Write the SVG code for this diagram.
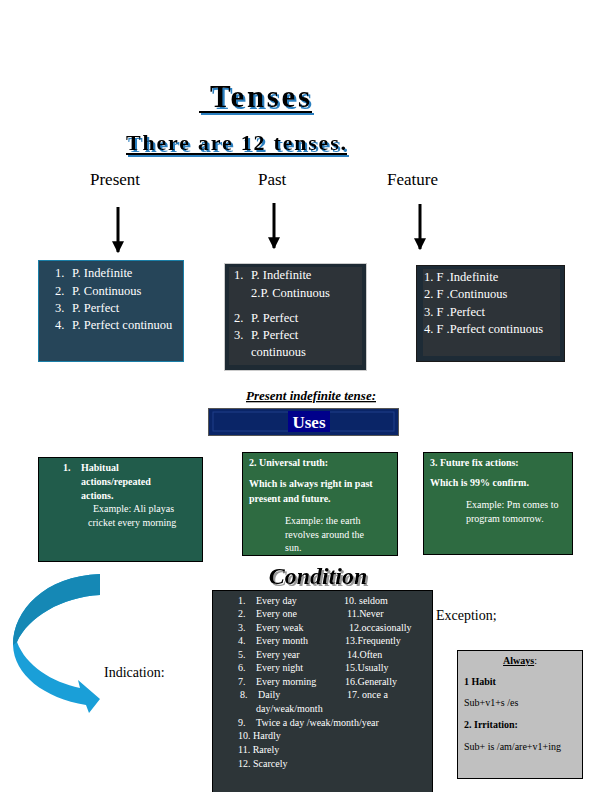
<svg xmlns="http://www.w3.org/2000/svg" width="612" height="792" viewBox="0 0 612 792" font-family="'Liberation Serif','Times New Roman',serif">
<defs>
<style>
text{font-family:'Liberation Serif','Times New Roman',serif}
.w{fill:#fff;font-size:12.5px;font-family:'Liberation Serif',serif}
.s{fill:#fff;font-size:10px;font-family:'Liberation Serif',serif}
.sb{fill:#fff;font-size:10px;font-weight:bold;font-family:'Liberation Serif',serif}
.k{fill:#000;font-size:10px;font-family:'Liberation Serif',serif}
.hd{font-size:17px;fill:#000;font-family:'Liberation Serif',serif}
</style>
<filter id="bs" x="-10%" y="-20%" width="130%" height="150%"><feDropShadow dx="2" dy="2" stdDeviation="0.3" flood-color="#2a7fc0"/></filter>
<filter id="gs" x="-10%" y="-20%" width="130%" height="150%"><feDropShadow dx="2" dy="2" stdDeviation="0.5" flood-color="#999"/></filter>
<marker id="ar" viewBox="0 0 10 10" refX="9" refY="5" markerWidth="4" markerHeight="4" orient="auto"><path d="M0,0 L10,5 L0,10 Z" fill="#000"/></marker>
</defs>
<rect width="612" height="792" fill="#fff"/>
<g id="title" filter="url(#bs)">
<text x="210" y="107" font-size="31" font-weight="bold" fill="#000" textLength="100">Tenses</text>
<rect x="199" y="111" width="113" height="2" fill="#000"/>
<text x="126" y="150" font-size="22" font-weight="bold" fill="#000" textLength="220">There are 12 tenses.</text>
<rect x="126" y="153" width="221" height="2" fill="#000"/>
</g>
<g id="heads">
<text class="hd" x="90" y="185">Present</text>
<text class="hd" x="258" y="185">Past</text>
<text class="hd" x="387" y="185">Feature</text>
</g>
<g id="connectors" stroke="#000" stroke-width="3" marker-end="url(#ar)">
<line x1="118" y1="207" x2="118" y2="252"/>
<line x1="274" y1="203" x2="274" y2="248"/>
<line x1="420" y1="204" x2="420" y2="249"/>
</g>
<g id="present">
<rect x="38.5" y="260.5" width="145" height="101" fill="#264559" stroke="#1a7fa8"/>
<text class="w" x="55" y="277">1.</text><text class="w" x="72" y="277">P. Indefinite</text>
<text class="w" x="55" y="295">2.</text><text class="w" x="72" y="295">P. Continuous</text>
<text class="w" x="55" y="312">3.</text><text class="w" x="72" y="312">P. Perfect</text>
<text class="w" x="55" y="329">4.</text><text class="w" x="72" y="329">P. Perfect continuou</text>
</g>
<g id="past">
<rect x="224.5" y="263.5" width="142" height="107" fill="#1e2a33" stroke="#ccc"/>
<rect x="229" y="267" width="133" height="98" fill="#2d3338"/>
<text class="w" x="234" y="279">1.</text><text class="w" x="251" y="279">P. Indefinite</text>
<text class="w" x="251" y="297">2.P. Continuous</text>
<text class="w" x="234" y="322">2.</text><text class="w" x="251" y="322">P. Perfect</text>
<text class="w" x="234" y="339">3.</text><text class="w" x="251" y="339">P. Perfect</text>
<text class="w" x="251" y="356">continuous</text>
</g>
<g id="future">
<rect x="416.5" y="265.5" width="148" height="96" fill="#1d2b36" stroke="#1a1a1a"/>
<rect x="423" y="269" width="137" height="87" fill="#2d3338"/>
<text class="w" x="424" y="281">1. F .Indefinite</text>
<text class="w" x="424" y="298">2. F .Continuous</text>
<text class="w" x="424" y="316">3. F .Perfect</text>
<text class="w" x="424" y="333">4. F .Perfect continuous</text>
</g>
<g id="uses">
<text x="311" y="400" text-anchor="middle" font-size="13" font-weight="bold" font-style="italic" text-decoration="underline">Present indefinite tense:</text>
<rect x="208.5" y="408.5" width="190" height="27" fill="#0a2567" stroke="#555"/>
<rect x="213" y="412" width="181" height="19" fill="none" stroke="#1f3f8a"/>
<rect x="288" y="411" width="42" height="21" fill="#00008b"/>
<text x="309" y="428" text-anchor="middle" font-size="17" font-weight="bold" fill="#fff">Uses</text>
</g>
<g id="use1">
<rect x="38.5" y="457.5" width="164" height="104" fill="#215c4b" stroke="#000"/>
<text class="sb" x="63" y="471">1.</text>
<text class="sb" x="81" y="471">Habitual</text>
<text class="sb" x="81" y="485">actions/repeated</text>
<text class="sb" x="81" y="499">actions.</text>
<text class="s" x="93" y="512">Example: Ali playas</text>
<text class="s" x="88" y="526">cricket every morning</text>
</g>
<g id="use2">
<rect x="242.5" y="452.5" width="155" height="103" fill="#2e6b41" stroke="#000"/>
<text class="sb" x="249" y="466">2. Universal truth:</text>
<text class="sb" x="249" y="487">Which is always right in past</text>
<text class="sb" x="249" y="502">present and future.</text>
<text class="s" x="285" y="524">Example: the earth</text>
<text class="s" x="285" y="538">revolves around the</text>
<text class="s" x="285" y="551">sun.</text>
</g>
<g id="use3">
<rect x="423.5" y="452.5" width="149" height="102" fill="#2e6b41" stroke="#000"/>
<text class="sb" x="430" y="466">3. Future fix actions:</text>
<text class="sb" x="430" y="486">Which is 99% confirm.</text>
<text class="s" x="466" y="508">Example: Pm comes to</text>
<text class="s" x="466" y="522">program tomorrow.</text>
</g>
<g id="condition">
<text x="318" y="584" text-anchor="middle" font-size="24" font-weight="bold" font-style="italic" fill="#000" filter="url(#gs)">Condition</text>
<rect x="212.5" y="590.5" width="220" height="202" fill="#2d3538" stroke="#000"/>
<text class="s" x="238" y="604">1.</text><text class="s" x="256" y="604">Every day</text><text class="s" x="344" y="604">10. seldom</text>
<text class="s" x="238" y="617">2.</text><text class="s" x="256" y="617">Every one</text><text class="s" x="347" y="617">11.Never</text>
<text class="s" x="238" y="631">3.</text><text class="s" x="256" y="631">Every weak</text><text class="s" x="349" y="631">12.occasionally</text>
<text class="s" x="238" y="644">4.</text><text class="s" x="256" y="644">Every month</text><text class="s" x="345" y="644">13.Frequently</text>
<text class="s" x="238" y="658">5.</text><text class="s" x="256" y="658">Every year</text><text class="s" x="347" y="658">14.Often</text>
<text class="s" x="238" y="671">6.</text><text class="s" x="256" y="671">Every night</text><text class="s" x="345" y="671">15.Usually</text>
<text class="s" x="238" y="685">7.</text><text class="s" x="256" y="685">Every morning</text><text class="s" x="345" y="685">16.Generally</text>
<text class="s" x="240" y="698">8.</text><text class="s" x="258" y="698">Daily</text><text class="s" x="347" y="698">17. once a</text>
<text class="s" x="256" y="712">day/weak/month</text>
<text class="s" x="238" y="726">9.</text><text class="s" x="256" y="726">Twice a day /weak/month/year</text>
<text class="s" x="238" y="739">10. Hardly</text>
<text class="s" x="238" y="753">11. Rarely</text>
<text class="s" x="238" y="767">12. Scarcely</text>
</g>
<g id="exception">
<text x="436" y="620" font-size="14">Exception;</text>
<rect x="457.5" y="650.5" width="125" height="128" fill="#c0c0c0" stroke="#000"/>
<text class="k" x="520" y="664" text-anchor="middle"><tspan font-weight="bold" text-decoration="underline">Always</tspan>:</text>
<text class="k" x="464" y="685" font-weight="bold">1 Habit</text>
<text class="k" x="464" y="706">Sub+v1+s /es</text>
<text class="k" x="464" y="728" font-weight="bold">2. Irritation:</text>
<text class="k" x="464" y="750">Sub+ is /am/are+v1+ing</text>
</g>
<g id="indication">
<path d="M100,574 L100,595 C62,597 28,617 17,642 C26,666 52,682 80,688 L78,680 L100,699 L89,713 L86,705 C44,698 14,675 13,645 C13,610 45,576 100,574 Z" fill="#1a9fd8"/>
<path d="M100,574 L100,595 C62,597 28,617 17,642 L13,645 C13,610 45,576 100,574 Z" fill="#1588b5"/>
<text x="104" y="677" font-size="14">Indication:</text>
</g>
</svg>
